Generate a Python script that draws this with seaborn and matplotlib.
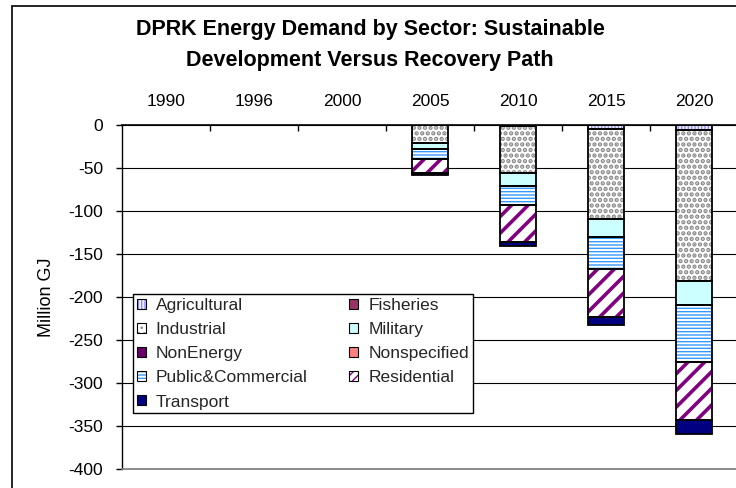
import numpy as np
import matplotlib
matplotlib.use("Agg")
import matplotlib.pyplot as plt
from matplotlib.patches import Patch, Rectangle
import seaborn as sns

# ---------------------------------------------------------------------------
# Data (million GJ, reduction drawn downward from zero)
# ---------------------------------------------------------------------------

YEARS = ["1990", "1996", "2000", "2005", "2010", "2015", "2020"]
SECTORS = ["Agricultural", "Fisheries", "Industrial", "Military", "NonEnergy",
           "Nonspecified", "Public&Commercial", "Residential", "Transport"]

agricultural = [0, 0, 0, 0, 1, 4.5, 5.5]
fisheries = [0, 0, 0, 0, 0, 0, 0]
industrial = [0, 0, 0, 21, 55, 105, 176]
military = [0, 0, 0, 6.5, 15.5, 21, 28]
nonenergy = [0, 0, 0, 0, 0, 0, 0]
nonspecified = [0, 0, 0, 0, 0, 0, 0]
public_commercial = [0, 0, 0, 11.5, 22, 37.5, 66]
residential = [0, 0, 0, 16.5, 42, 55, 67]
transport = [0, 0, 0, 2.5, 5, 9.5, 17]

SERIES = [agricultural, fisheries, industrial, military, nonenergy,
          nonspecified, public_commercial, residential, transport]

# facecolor, hatch colour, hatch, hatch linewidth
STYLE = {
    "Agricultural":      ("#EEEEFF", "#8C8CFF", "|||||", 1.0),
    "Fisheries":         ("#993366", "#993366", None, 1.0),
    "Industrial":        ("#FFFFFF", "#888888", "...", 2.2),
    "Military":          ("#CCFFFF", "#CCFFFF", None, 1.0),
    "NonEnergy":         ("#660066", "#660066", None, 1.0),
    "Nonspecified":      ("#FF8080", "#FF8080", None, 1.0),
    "Public&Commercial": ("#FFFFFF", "#3399FF", "-----", 1.0),
    "Residential":       ("#FFFFFF", "#800080", "//", 2.6),
    "Transport":         ("#000080", "#000080", None, 1.0),
}

sns.set_theme(style="white")
plt.rcParams["font.family"] = ["Liberation Sans", "DejaVu Sans"]
plt.rcParams["hatch.linewidth"] = 1.0
plt.rcParams["axes.unicode_minus"] = False

W, H = 736, 488
fig = plt.figure(figsize=(W / 100, H / 100), dpi=100)
fig.patch.set_facecolor("white")
ax = fig.add_axes([122 / W, 1 - 469 / H, 616 / W, 344 / H])

bottom = np.zeros(len(YEARS))
for name, vals in zip(SECTORS, SERIES):
    vals = -np.asarray(vals, dtype=float)
    keep = vals != 0                      # skip empty segments
    fc, hc, hatch, hlw = STYLE[name]
    if keep.any():
        xs = [y for y, k in zip(YEARS, keep) if k]
        n0 = len(ax.patches)
        with plt.rc_context({"hatch.linewidth": hlw}):
            sns.barplot(x=xs, y=vals[keep], order=YEARS, bottom=bottom[keep],
                        width=0.42, color=fc, saturation=1, hatch=hatch,
                        edgecolor=hc, linewidth=0, errorbar=None, ax=ax,
                        zorder=2)
        for p in ax.patches[n0:]:
            if hasattr(p, "set_hatch_linewidth"):
                p.set_hatch_linewidth(hlw)
        # black outline on top
        sns.barplot(x=xs, y=vals[keep], order=YEARS, bottom=bottom[keep],
                    width=0.42, color="black", saturation=1, facecolor="none",
                    edgecolor="black", linewidth=1.3, errorbar=None, ax=ax,
                    zorder=3)
    bottom = bottom + vals

# ---------------------------------------------------------------------------
# Axes
# ---------------------------------------------------------------------------

ax.set_xlim(-0.5, len(YEARS) - 0.5)
ax.set_ylim(-400, 0)
ax.set_yticks(np.arange(-400, 1, 50))
ax.yaxis.grid(True, color="black", lw=0.8)
ax.xaxis.grid(False)
ax.set_axisbelow(True)

ax.xaxis.tick_top()
ax.set_xticks(range(len(YEARS)))
ax.set_xticklabels(YEARS)
ax.tick_params(axis="x", which="major", length=0, pad=11.5, labelsize=12.5,
               labeltop=True, labelbottom=False, labelcolor="black")
ax.set_xticks(np.arange(0.5, len(YEARS) - 1, 1), minor=True)
ax.tick_params(axis="x", which="minor", top=True, bottom=False,
               direction="in", length=4, width=1, color="black")
ax.tick_params(axis="y", left=True, direction="out", length=4, width=1,
               pad=9.5, labelsize=12.5, color="black", labelcolor="black")
ax.set_xlabel("")
ax.set_ylabel("Million GJ", fontsize=13, color="black")
ax.yaxis.set_label_coords(-0.108, 0.5)

ax.spines["top"].set_color("black")
ax.spines["top"].set_linewidth(1.2)
ax.spines["left"].set_color("black")
ax.spines["left"].set_linewidth(1.0)
ax.spines["bottom"].set_color("#808080")
ax.spines["right"].set_color("#808080")

# ---------------------------------------------------------------------------
# Legend (row-major order as in the original)
# ---------------------------------------------------------------------------

handles = []
for name in SECTORS:
    fc, hc, hatch, hlw = STYLE[name]
    if name == "Residential":
        hatch, hlw = "////", 1.6
    with plt.rc_context({"hatch.linewidth": hlw}):
        fill = Patch(facecolor=fc, edgecolor=hc, hatch=hatch, lw=0)
    if hasattr(fill, "set_hatch_linewidth"):
        fill.set_hatch_linewidth(hlw)
    handles.append((fill, Patch(facecolor="none", edgecolor="black", lw=0.8)))
order = [0, 2, 4, 6, 8, 1, 3, 5, 7]
leg = ax.legend([handles[i] for i in order], [SECTORS[i] for i in order],
                ncol=2, loc="upper left", bbox_to_anchor=(0.018, 0.509),
                borderaxespad=0, fontsize=12.5, handlelength=0.52,
                handleheight=0.52, handletextpad=0.57, columnspacing=2.4,
                labelspacing=0.53, borderpad=0.22, frameon=True,
                fancybox=False, edgecolor="black", framealpha=1)
leg.get_frame().set_linewidth(1.0)

# ---------------------------------------------------------------------------
# Title and chart border
# ---------------------------------------------------------------------------

fig.text(0.503, 1 - 45 / H,
         "DPRK Energy Demand by Sector: Sustainable\nDevelopment Versus Recovery Path",
         ha="center", va="center", fontsize=15.5, fontweight="bold",
         linespacing=1.65, color="black")

fig.add_artist(Rectangle((12 / W, -0.1), 2, 1.1 - 6 / H,
                         transform=fig.transFigure, fill=False,
                         edgecolor="black", lw=1.2))

fig.savefig("out.png", dpi=100)
